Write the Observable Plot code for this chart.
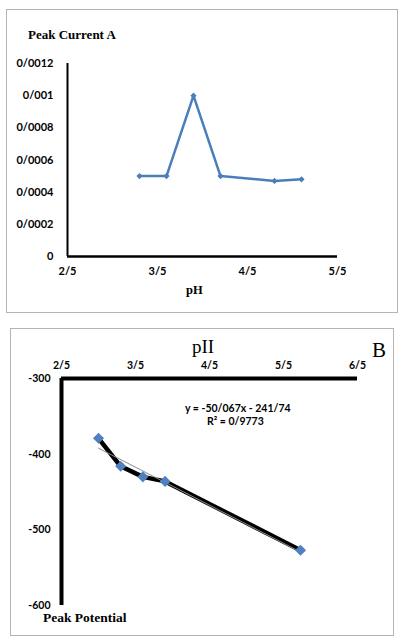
<!DOCTYPE html>
<html>
<head>
<meta charset="utf-8">
<script src="https://cdn.jsdelivr.net/npm/d3@7"></script>
<script src="https://cdn.jsdelivr.net/npm/@observablehq/plot@0.6"></script>
<style>
  html, body { margin: 0; padding: 0; background: white; }
  #page { position: relative; width: 401px; height: 643px; overflow: hidden; background: white; }
  .panel { position: absolute; box-sizing: border-box; border: 1.5px solid #b4b4b4; z-index: 2; pointer-events: none; }
  .chart { position: absolute; left: 0; z-index: 1; }
  .lbl { position: absolute; z-index: 3; white-space: nowrap; line-height: 1; color: black; }
  .serif { font-family: "Liberation Serif", "DejaVu Serif", serif; }
  .sans { font-family: Lato, "Open Sans", sans-serif; font-weight: bold; }
</style>
</head>
<body>
<div id="page">
  <div class="panel" style="left:6px; top:9px; width:392px; height:304px;"></div>
  <div class="panel" style="left:10px; top:328px; width:384px; height:308px;"></div>

  <div id="top" class="chart" style="top:0px;"></div>
  <div id="bottom" class="chart" style="top:320px;"></div>

  <div class="lbl serif" style="left:28px; top:28px; font-size:13px; font-weight:bold;">Peak Current A</div>
  <div class="lbl serif" style="left:186px; top:284px; font-size:12.5px; font-weight:bold;">pH</div>

  <div class="lbl serif" style="left:192px; top:337px; font-size:19px;">pII</div>
  <div class="lbl serif" style="left:372px; top:340px; font-size:21px;">B</div>
  <div class="lbl sans" style="left:185px; top:403px; font-size:10.5px;">y = -50/067x - 241/74</div>
  <div class="lbl sans" style="left:207px; top:416px; font-size:10.5px;">R² = 0/9773</div>
  <div class="lbl serif" style="left:43px; top:611px; font-size:13.5px; font-weight:bold;">Peak Potential</div>
</div>

<script>
// Peak current versus pH
const currentPH = [3.3, 3.6, 3.9, 4.2, 4.8, 5.1];
const peakCurrent = [0.0005, 0.0005, 0.001, 0.0005, 0.00047, 0.00048];
const currentXTicks = [2.5, 3.5, 4.5, 5.5];
const currentYTicks = [0, 0.0002, 0.0004, 0.0006, 0.0008, 0.001, 0.0012];

// Peak potential versus pH
const potentialPH = [3.0, 3.3, 3.6, 3.9, 5.73];
const peakPotential = [-379, -416, -430, -436, -527];
const potentialXTicks = [2.5, 3.5, 4.5, 5.5, 6.5];
const potentialYTicks = [-300, -400, -500, -600];

// decimal separator written as a slash, plain hyphen for negatives
const slash = d => String(d).replace(".", "/");

const currentData = currentPH.map((ph, i) => ({ph, value: peakCurrent[i]}));
const potentialData = potentialPH.map((ph, i) => ({ph, value: peakPotential[i]}));

const blue = "#4a7ebb";

const topChart = Plot.plot({
  width: 401,
  height: 320,
  marginLeft: 67,
  marginRight: 64,
  marginTop: 63,
  marginBottom: 64,
  style: {background: "transparent", fontFamily: "Lato, 'Open Sans', sans-serif", fontSize: "11px", fontWeight: "bold", color: "black", overflow: "visible"},
  x: {domain: [2.5, 5.5], ticks: currentXTicks, tickFormat: slash, tickSize: 0, tickPadding: 11, label: null},
  y: {domain: [0, 0.0012], ticks: currentYTicks, tickFormat: slash, tickSize: 0, tickPadding: 14, label: null},
  marks: [
    Plot.ruleX([2.5], {stroke: "black", strokeWidth: 2}),
    Plot.ruleY([0], {stroke: "black", strokeWidth: 2.5}),
    Plot.line(currentData, {x: "ph", y: "value", stroke: blue, strokeWidth: 2.5}),
    Plot.dot(currentData, {x: "ph", y: "value", symbol: "diamond2", r: 2.8, fill: blue, stroke: "none"})
  ]
});
document.getElementById("top").appendChild(topChart);

const bottomChart = Plot.plot({
  width: 401,
  height: 323,
  marginLeft: 61,
  marginRight: 44,
  marginTop: 58,
  marginBottom: 38,
  style: {background: "transparent", fontFamily: "Lato, 'Open Sans', sans-serif", fontSize: "10.5px", fontWeight: "bold", color: "black", overflow: "visible"},
  x: {domain: [2.5, 6.5], axis: "top", ticks: potentialXTicks, tickFormat: slash, tickSize: 0, tickPadding: 10, label: null},
  y: {domain: [-600, -300], ticks: potentialYTicks, tickFormat: slash, tickSize: 0, tickPadding: 11, label: null},
  marks: [
    Plot.ruleX([2.5], {stroke: "black", strokeWidth: 4}),
    Plot.ruleY([-300], {stroke: "black", strokeWidth: 4}),
    Plot.line(potentialData, {x: "ph", y: "value", stroke: "black", strokeWidth: 4.5}),
    Plot.linearRegressionY(potentialData, {x: "ph", y: "value", stroke: "#8c8c8c", strokeWidth: 1, ci: 0}),
    Plot.dot(potentialData, {x: "ph", y: "value", symbol: "diamond2", r: 5, fill: "#4f81bd", stroke: "none"})
  ]
});
document.getElementById("bottom").appendChild(bottomChart);
</script>
</body>
</html>
